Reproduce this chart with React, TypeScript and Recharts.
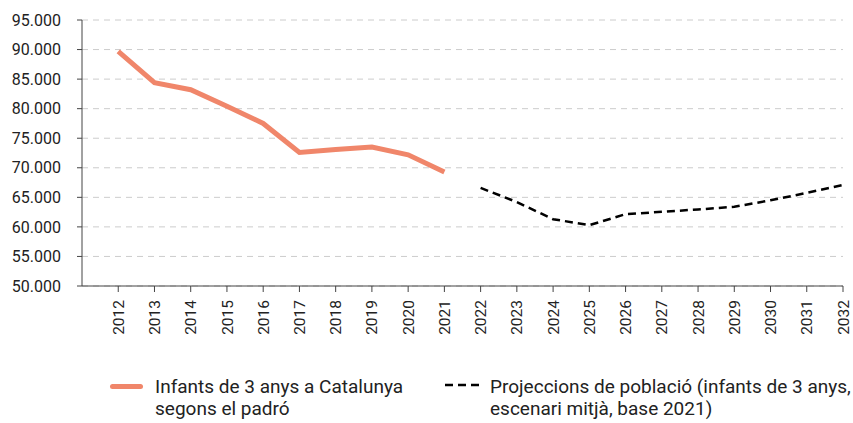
import React from 'react';
import { LineChart, Line, XAxis, YAxis, CartesianGrid, Legend } from 'recharts';

const years = [2012, 2013, 2014, 2015, 2016, 2017, 2018, 2019, 2020, 2021, 2022, 2023, 2024, 2025, 2026, 2027, 2028, 2029, 2030, 2031, 2032];
const padro = [89700, 84400, 83200, 80400, 77500, 72600, 73100, 73500, 72200, 69300, null, null, null, null, null, null, null, null, null, null, null];
const projeccions = [null, null, null, null, null, null, null, null, null, null, 66600, 64200, 61300, 60300, 62150, 62550, 62950, 63400, 64500, 65750, 67100];
const yTicks = [50000, 55000, 60000, 65000, 70000, 75000, 80000, 85000, 90000, 95000];
const legendPadro = ['Infants de 3 anys a Catalunya', 'segons el padró'];
const legendProj = ['Projeccions de població (infants de 3 anys,', 'escenari mitjà, base 2021)'];

const data = years.map((year, i) => ({ year, padro: padro[i], proj: projeccions[i] }));

const ORANGE = '#F0866A';
const FONT = 'Roboto, sans-serif';

const fmt = (v: number) => `${Math.floor(v / 1000)}.${String(v % 1000).padStart(3, '0')}`;

const XTick = (props: any) => {
  const { x, y, payload } = props;
  return (
    <g transform={`translate(${x},${y})`}>
      <text transform="rotate(-90)" x={0} y={0} dy="0.36em" textAnchor="end" fill="#222" fontSize={15.5} fontFamily={FONT}>
        {payload.value}
      </text>
    </g>
  );
};

const LegendContent = () => (
  <div style={{ position: 'relative', width: 853, height: 50, fontFamily: FONT, fontSize: 19, lineHeight: '22px', color: '#222' }}>
    <div style={{ position: 'absolute', left: 110, top: 8, width: 33, height: 5, borderRadius: 3, background: ORANGE }} />
    <div style={{ position: 'absolute', left: 155, top: 0, whiteSpace: 'nowrap' }}>
      {legendPadro.map((t) => (<div key={t}>{t}</div>))}
    </div>
    <svg style={{ position: 'absolute', left: 445, top: 6 }} width={34} height={6}>
      <line x1={0} y1={3} x2={34} y2={3} stroke="#000" strokeWidth={2.5} strokeDasharray="8 5" />
    </svg>
    <div style={{ position: 'absolute', left: 490, top: 0, whiteSpace: 'nowrap' }}>
      {legendProj.map((t) => (<div key={t}>{t}</div>))}
    </div>
  </div>
);

export default function App() {
  return (
    <div style={{ position: 'absolute', left: 0, top: 0, width: 853, height: 423, background: '#fff', fontFamily: FONT }}>
      <LineChart width={853} height={423} data={data} margin={{ top: 20, right: 10, bottom: 0, left: 0 }}>
        <CartesianGrid vertical={false} stroke="#cccccc" strokeDasharray="6 5" />
        <XAxis
          type="number"
          dataKey="year"
          domain={[2011, 2032]}
          ticks={years}
          interval={0}
          height={137}
          tickSize={6}
          tickMargin={8}
          tick={<XTick />}
          axisLine={{ stroke: '#444' }}
          tickLine={{ stroke: '#444' }}
          allowDataOverflow
        />
        <YAxis
          domain={[50000, 95000]}
          ticks={yTicks}
          interval={0}
          width={82}
          tickSize={5}
          tickMargin={16}
          tickFormatter={fmt}
          tick={{ fill: '#222', fontSize: 16, fontFamily: FONT }}
          axisLine={{ stroke: '#444' }}
          tickLine={{ stroke: '#444' }}
        />
        <Line dataKey="padro" stroke={ORANGE} strokeWidth={5} dot={false} isAnimationActive={false} connectNulls={false} />
        <Line dataKey="proj" stroke="#000" strokeWidth={2.5} strokeDasharray="8 5" dot={false} isAnimationActive={false} connectNulls={false} />
        <Legend
          layout="horizontal"
          verticalAlign="middle"
          align="center"
          content={<LegendContent />}
          wrapperStyle={{ left: 0, top: 376, width: 853, height: 50 }}
        />
      </LineChart>
    </div>
  );
}
